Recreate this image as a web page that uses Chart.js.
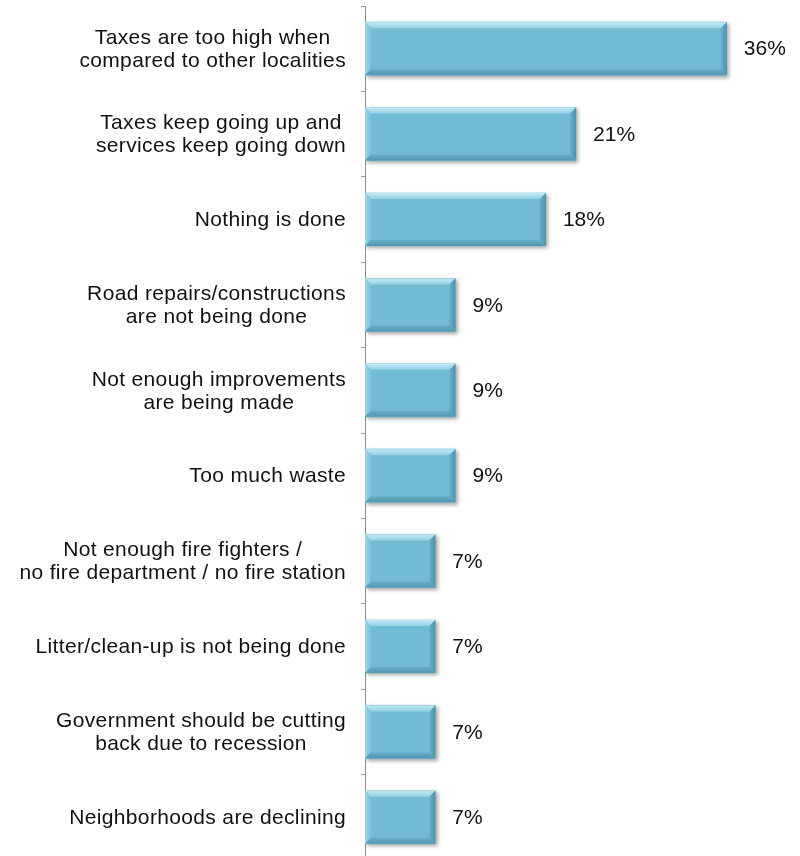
<!DOCTYPE html>
<html>
<head>
<meta charset="utf-8">
<script src="https://cdn.jsdelivr.net/npm/chart.js@4/dist/chart.umd.min.js"></script>
<style>
  html, body { margin: 0; padding: 0; background: #ffffff; overflow: hidden; }
  #wrap { width: 800px; height: 862px; position: relative; }
</style>
</head>
<body>
<div id="wrap"><canvas id="chart"></canvas></div>
<script>
// Complaints about local taxes and services (share of respondents)
const categories = [
  ["Taxes are too high when", "compared to other localities"],
  ["Taxes keep going up and", "services keep going down"],
  ["Nothing is done"],
  ["Road repairs/constructions", "are not being done"],
  ["Not enough improvements", "are being made"],
  ["Too much waste"],
  ["Not enough fire fighters /", "no fire department / no fire station"],
  ["Litter/clean-up is not being done"],
  ["Government should be cutting", "back due to recession"],
  ["Neighborhoods are declining"]
];
const values = [36, 21, 18, 9, 9, 9, 7, 7, 7, 7];
const valueLabels = values.map(v => v + "%");

const LABEL_FONT = "21px 'Liberation Sans', Arial, sans-serif";
const LABEL_SPACING = "0.35px";

// Soft drop shadow under the bars
const barShadow = {
  id: "barShadow",
  beforeDatasetsDraw(chart) {
    const ctx = chart.ctx;
    ctx.save();
    ctx.shadowColor = "rgba(0,0,0,0.35)";
    ctx.shadowBlur = 4;
    ctx.shadowOffsetX = 2;
    ctx.shadowOffsetY = 2;
  },
  afterDatasetsDraw(chart) {
    chart.ctx.restore();
  }
};

// Bevelled edges on each bar, plus category and value labels
const bevelAndLabels = {
  id: "bevelAndLabels",
  afterDatasetsDraw(chart) {
    const ctx = chart.ctx;
    const meta = chart.getDatasetMeta(0);
    const yScale = chart.scales.y;

    meta.data.forEach((el, i) => {
      const p = el.getProps(["x", "y", "base", "height"], true);
      const l = p.base, r = p.x;
      const t = p.y - p.height / 2, b = p.y + p.height / 2;
      const bv = 6;
      const poly = (pts, color) => {
        ctx.beginPath();
        ctx.moveTo(pts[0][0], pts[0][1]);
        for (let k = 1; k < pts.length; k++) ctx.lineTo(pts[k][0], pts[k][1]);
        ctx.closePath();
        ctx.fillStyle = color;
        ctx.fill();
      };
      ctx.save();
      const gTop = ctx.createLinearGradient(0, t, 0, t + bv);
      gTop.addColorStop(0, "#c4e9f4");
      gTop.addColorStop(1, "#93d0e4");
      poly([[l, t], [r, t], [r - bv, t + bv], [l + bv, t + bv]], gTop);
      const gLeft = ctx.createLinearGradient(l, 0, l + bv, 0);
      gLeft.addColorStop(0, "#9fd6e8");
      gLeft.addColorStop(1, "#78bfd8");
      poly([[l, t], [l + bv, t + bv], [l + bv, b - bv], [l, b]], gLeft);
      const gRight = ctx.createLinearGradient(r - bv, 0, r, 0);
      gRight.addColorStop(0, "#6aafc9");
      gRight.addColorStop(1, "#4b93ae");
      poly([[r, t], [r, b], [r - bv, b - bv], [r - bv, t + bv]], gRight);
      const gBot = ctx.createLinearGradient(0, b - bv, 0, b);
      gBot.addColorStop(0, "#68adc7");
      gBot.addColorStop(1, "#4f97b2");
      poly([[l, b], [l + bv, b - bv], [r - bv, b - bv], [r, b]], gBot);
      ctx.restore();

      // value label to the right of the bar
      ctx.save();
      ctx.font = LABEL_FONT;
      ctx.fillStyle = "#111111";
      ctx.textAlign = "left";
      ctx.textBaseline = "middle";
      ctx.fillText(valueLabels[i], r + 17, p.y + 1);
      ctx.restore();
    });

    // category labels: block right-aligned to the axis, lines centred
    ctx.save();
    ctx.font = LABEL_FONT;
    if ("letterSpacing" in ctx) ctx.letterSpacing = LABEL_SPACING;
    ctx.fillStyle = "#111111";
    ctx.textAlign = "center";
    ctx.textBaseline = "middle";
    const rightEdge = yScale.right - 19;
    const lineH = 23;
    categories.forEach((lines, i) => {
      const yc = yScale.getPixelForValue(i) + 1;
      const widest = Math.max(...lines.map(s => ctx.measureText(s).width));
      const cx = rightEdge - widest / 2;
      const y0 = yc - (lines.length - 1) * lineH / 2;
      lines.forEach((s, k) => ctx.fillText(s, cx, y0 + k * lineH));
    });
    ctx.restore();
  }
};

new Chart(document.getElementById("chart"), {
  type: "bar",
  data: {
    labels: categories.map(c => c.join(" ")),
    datasets: [{
      data: values,
      backgroundColor: "#72bbd5",
      borderWidth: 0,
      barThickness: 53
    }]
  },
  options: {
    indexAxis: "y",
    responsive: true,
    maintainAspectRatio: false,
    animation: false,
    layout: { padding: { top: 6, right: 33, bottom: 2, left: 0 } },
    plugins: {
      legend: { display: false },
      tooltip: { enabled: false }
    },
    scales: {
      x: { display: false, min: 0, max: 40 },
      y: {
        position: "left",
        grid: {
          display: true,
          drawOnChartArea: false,
          drawTicks: true,
          tickLength: 4,
          color: "#9a9a9a",
          offset: true
        },
        border: { display: true, color: "#8c8c8c", width: 1 },
        ticks: { display: false },
        afterFit(scale) { scale.width = 365; }
      }
    }
  },
  plugins: [barShadow, bevelAndLabels]
});
</script>
</body>
</html>
